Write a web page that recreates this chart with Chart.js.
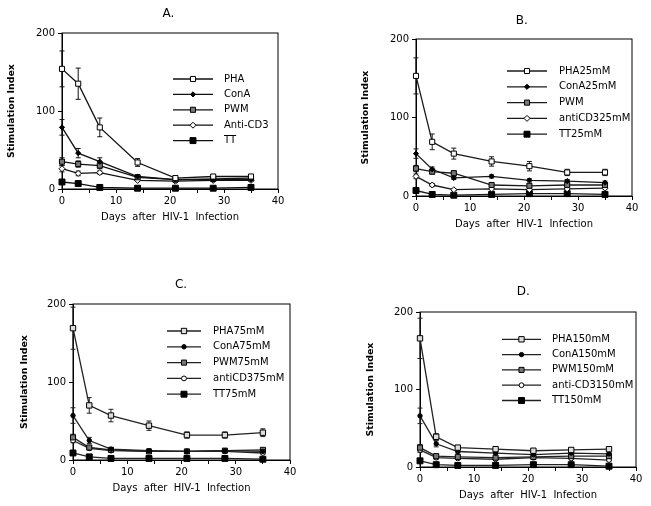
<!DOCTYPE html>
<html>
<head>
<meta charset="utf-8">
<script src="https://cdn.jsdelivr.net/npm/chart.js@4.4.1/dist/chart.umd.min.js"></script>
<style>
  html, body { margin: 0; padding: 0; background: #fff; }
  body { width: 651px; height: 506px; position: relative; overflow: hidden; }
  canvas { position: absolute; }
</style>
</head>
<body>
<canvas id="chartA"></canvas>
<canvas id="chartB"></canvas>
<canvas id="chartC"></canvas>
<canvas id="chartD"></canvas>
<script>
// ---- data ----
const days = [0, 3, 7, 14, 21, 28, 35];
const xTickLabels = [0, 10, 20, 30, 40];
const yTickLabels = [0, 100, 200];
const panelTitles = ['A.', 'B.', 'C.', 'D.'];
const yTitle = 'Stimulation Index';
const xTitle = 'Days  after  HIV-1  Infection';

const labelsA = ['PHA', 'ConA', 'PWM', 'Anti-CD3', 'TT'];
const phaA = [154, 135, 79, 34, 14, 16, 16];
const conaA = [79, 46, 35, 16, 12, 12, 12];
const pwmA = [35, 32, 30, 15, 12, 13, 14];
const cd3A = [26, 20, 21, 11, 10, 11, 11];
const ttA = [9, 7, 2, 1, 1, 1, 2];
const phaErrA = [23, 20, 12, 5, 2, 2, 2];
const conaErrA = [10, 6, 5, 2, 1, 1, 1];
const pwmErrA = [5, 4, 4, 2, 1, 1, 1];
const cd3ErrA = [4, 3, 2, 1, 1, 1, 1];
const ttErrA = [1, 1, 1, 0, 0, 0, 0];

const labelsB = ['PHA25mM', 'ConA25mM', 'PWM', 'antiCD325mM', 'TT25mM'];
const phaB = [153, 69, 54, 44, 38, 30, 30];
const conaB = [54, 34, 23, 25, 20, 19, 17];
const pwmB = [35, 31, 29, 14, 13, 14, 14];
const cd3B = [25, 14, 8, 9, 8, 9, 10];
const ttB = [7, 2, 1, 2, 3, 3, 2];
const phaErrB = [23, 10, 7, 6, 6, 4, 4];
const conaErrB = [6, 3, 2, 2, 2, 2, 2];
const pwmErrB = [4, 3, 3, 2, 2, 2, 2];
const cd3ErrB = [3, 2, 1, 1, 1, 1, 1];
const ttErrB = [1, 1, 0, 0, 0, 0, 0];

const labelsC = ['PHA75mM', 'ConA75mM', 'PWM75mM', 'antiCD375mM', 'TT75mM'];
const phaC = [169, 70, 57, 44, 32, 32, 35];
const conaC = [57, 25, 14, 12, 11, 12, 11];
const pwmC = [29, 16, 13, 11, 11, 12, 13];
const cd3C = [25, 15, 12, 11, 11, 11, 9];
const ttC = [9, 4, 2, 2, 2, 2, 1];
const phaErrC = [27, 10, 8, 6, 4, 4, 5];
const conaErrC = [10, 4, 2, 1, 1, 1, 1];
const pwmErrC = [4, 2, 1, 1, 1, 1, 1];
const cd3ErrC = [3, 2, 1, 1, 1, 1, 1];
const ttErrC = [1, 1, 0, 0, 0, 0, 0];

const labelsD = ['PHA150mM', 'ConA150mM', 'PWM150mM', 'anti-CD3150mM', 'TT150mM'];
const phaD = [166, 39, 25, 23, 21, 22, 23];
const conaD = [66, 30, 20, 18, 16, 18, 17];
const pwmD = [25, 14, 13, 12, 13, 14, 14];
const cd3D = [22, 12, 11, 10, 12, 11, 9];
const ttD = [8, 3, 2, 2, 3, 3, 1];
const phaErrD = [26, 4, 2, 2, 2, 2, 2];
const conaErrD = [10, 4, 2, 1, 1, 1, 1];
const pwmErrD = [4, 2, 1, 1, 1, 1, 1];
const cd3ErrD = [3, 2, 1, 1, 1, 1, 1];
const ttErrD = [1, 1, 0, 0, 0, 0, 0];

// ---- styles / layout (page pixels) ----
const FONT = '"DejaVu Sans", Verdana, sans-serif';
const tickFont = { family: FONT, size: 10, lineHeight: 1.2 };
const yTitleFont = { family: FONT, size: 9.4, weight: 'bold', lineHeight: 1.2 };
const xTitleFont = { family: FONT, size: 10, lineHeight: 1.2 };

const markersAB = [
  { pointStyle: 'rect', radius: 3.6, bg: '#fff' },
  { pointStyle: 'rectRot', radius: 2.6, bg: '#000' },
  { pointStyle: 'rect', radius: 3.6, bg: '#777' },
  { pointStyle: 'rectRot', radius: 3, bg: '#fff' },
  { pointStyle: 'rect', radius: 4.2, bg: '#000' },
];
const markersCD = [
  { pointStyle: 'rect', radius: 3.8, bg: '#ddd' },
  { pointStyle: 'circle', radius: 2.2, bg: '#000' },
  { pointStyle: 'rect', radius: 3.6, bg: '#777' },
  { pointStyle: 'circle', radius: 2.4, bg: '#fff' },
  { pointStyle: 'rect', radius: 4.2, bg: '#000' },
];

const layouts = [
  { box: [0, 0, 325, 253], area: [62, 33, 278, 189], titleAt: [168.5, 14], yTitleX: 12, xTitleY: 217.5,
    legend: { x0: 173, x1: 213, tx: 224, y0: 79, dy: 15.4 } },
  { box: [325, 0, 326, 253], area: [416, 39, 632, 196], titleAt: [521.7, 21], yTitleX: 366, xTitleY: 224,
    legend: { x0: 507, x1: 547, tx: 559, y0: 71, dy: 15.8 } },
  { box: [0, 253, 325, 253], area: [73, 304, 290, 460], titleAt: [181, 284.7], yTitleX: 24.5, xTitleY: 488.8,
    legend: { x0: 167, x1: 201, tx: 213, y0: 331, dy: 15.8 } },
  { box: [325, 253, 326, 253], area: [420, 312, 636, 467], titleAt: [523.3, 292], yTitleX: 370.3, xTitleY: 495.8,
    legend: { x0: 502, x1: 541, tx: 552, y0: 339.3, dy: 15.3 } },
];

const panelPlugin = {
  id: 'panel',
  beforeDatasetsDraw(chart) {
    const { ctx, chartArea: a, scales: { x, y } } = chart;
    ctx.save();
    ctx.strokeStyle = '#000';
    ctx.lineWidth = 1;
    ctx.strokeRect(a.left, a.top, a.right - a.left, a.bottom - a.top);
    // error bars
    chart.data.datasets.forEach((ds) => {
      ctx.strokeStyle = ds.borderColor;
      ds.data.forEach((p, i) => {
        const e = ds.errorBars[i];
        if (!e) return;
        const px = x.getPixelForValue(p.x);
        const top = y.getPixelForValue(p.y + e);
        const bot = y.getPixelForValue(Math.max(p.y - e, 0));
        ctx.beginPath();
        ctx.moveTo(px, top); ctx.lineTo(px, bot);
        ctx.moveTo(px - 2.5, top); ctx.lineTo(px + 2.5, top);
        ctx.moveTo(px - 2.5, bot); ctx.lineTo(px + 2.5, bot);
        ctx.stroke();
      });
    });
    ctx.restore();
  },
  afterDraw(chart, args, opts) {
    const { ctx } = chart;
    const [bx, by] = opts.box;
    ctx.save();
    ctx.fillStyle = '#000';
    ctx.textAlign = 'center';
    ctx.textBaseline = 'middle';
    ctx.font = `12px ${FONT}`;
    ctx.fillText(opts.title, opts.titleAt[0] - bx, opts.titleAt[1] - by);
    // legend: line - marker - line
    const L = opts.legend;
    ctx.font = `10px ${FONT}`;
    ctx.textAlign = 'left';
    chart.data.datasets.forEach((ds, i) => {
      const yy = L.y0 + i * L.dy - by;
      ctx.strokeStyle = ds.borderColor;
      ctx.lineWidth = ds.borderWidth;
      ctx.beginPath();
      ctx.moveTo(L.x0 - bx, yy); ctx.lineTo(L.x1 - bx, yy);
      ctx.stroke();
      ctx.fillStyle = ds.pointBackgroundColor;
      ctx.strokeStyle = '#000';
      ctx.lineWidth = 1;
      Chart.helpers.drawPoint(ctx, { pointStyle: ds.pointStyle, radius: ds.pointRadius, borderWidth: 1, rotation: 0 },
        (L.x0 + L.x1) / 2 - bx, yy);
      ctx.fillStyle = '#000';
      ctx.fillText(ds.label, L.tx - bx, yy);
    });
    ctx.restore();
  },
};

function makePanel(id, idx, labels, series, errors, markers, lineColor) {
  const lay = layouts[idx];
  const [bx, by, bw, bh] = lay.box;
  const el = document.getElementById(id);
  el.style.left = bx + 'px';
  el.style.top = by + 'px';
  el.style.width = bw + 'px';
  el.style.height = bh + 'px';
  el.width = bw;
  el.height = bh;

  const al = lay.area[0] - bx, at = lay.area[1] - by, ar = lay.area[2] - bx, ab = lay.area[3] - by;
  const yLH = yTitleFont.size * 1.2;
  const padLeft = lay.yTitleX - bx - yLH / 2;
  const yWidth = al - padLeft;
  const xLH = xTitleFont.size * 1.2;
  const xHeight = (lay.xTitleY - by) + xLH / 2 - ab;
  const padBottom = bh - ab - xHeight;

  const datasets = labels.map((label, i) => ({
    label,
    data: days.map((d, j) => ({ x: d, y: series[i][j] })),
    errorBars: errors[i],
    borderColor: lineColor,
    borderWidth: 1.3,
    pointStyle: markers[i].pointStyle,
    pointRadius: markers[i].radius,
    pointBackgroundColor: markers[i].bg,
    pointBorderColor: '#000',
    pointBorderWidth: 1,
    tension: 0,
    fill: false,
    clip: false,
  }));

  return new Chart(el, {
    type: 'line',
    data: { datasets },
    plugins: [panelPlugin],
    options: {
      responsive: false,
      animation: false,
      events: [],
      layout: { padding: { left: padLeft, top: at, right: bw - ar, bottom: padBottom } },
      plugins: {
        legend: { display: false },
        title: { display: false },
        tooltip: { enabled: false },
        panel: { box: lay.box, title: panelTitles[idx], titleAt: lay.titleAt, legend: lay.legend },
      },
      scales: {
        x: {
          type: 'linear',
          min: 0,
          max: 40,
          afterFit: (s) => { s.height = xHeight; },
          grid: { drawOnChartArea: false, drawTicks: true, tickLength: 4, color: '#000' },
          border: { display: true, color: '#000', width: 1 },
          ticks: {
            stepSize: 5,
            autoSkip: false,
            maxRotation: 0,
            padding: 2,
            color: '#000',
            font: tickFont,
            callback: (v) => (xTickLabels.includes(v) ? String(v) : ''),
          },
          title: { display: true, text: xTitle, color: '#000', font: xTitleFont, padding: 0 },
        },
        y: {
          type: 'linear',
          min: 0,
          max: 200,
          afterFit: (s) => { s.width = yWidth; },
          grid: { drawOnChartArea: false, drawTicks: true, tickLength: 4, color: '#000' },
          border: { display: true, color: '#000', width: 1 },
          ticks: {
            stepSize: 100,
            padding: 3,
            color: '#000',
            font: tickFont,
            callback: (v) => (yTickLabels.includes(v) ? String(v) : ''),
          },
          title: { display: true, text: yTitle, color: '#000', font: yTitleFont, padding: 0 },
        },
      },
    },
  });
}

makePanel('chartA', 0, labelsA,
  [phaA, conaA, pwmA, cd3A, ttA],
  [phaErrA, conaErrA, pwmErrA, cd3ErrA, ttErrA], markersAB, '#111');
makePanel('chartB', 1, labelsB,
  [phaB, conaB, pwmB, cd3B, ttB],
  [phaErrB, conaErrB, pwmErrB, cd3ErrB, ttErrB], markersAB, '#1a1a1a');
makePanel('chartC', 2, labelsC,
  [phaC, conaC, pwmC, cd3C, ttC],
  [phaErrC, conaErrC, pwmErrC, cd3ErrC, ttErrC], markersCD, '#222');
makePanel('chartD', 3, labelsD,
  [phaD, conaD, pwmD, cd3D, ttD],
  [phaErrD, conaErrD, pwmErrD, cd3ErrD, ttErrD], markersCD, '#222');
</script>
</body>
</html>
